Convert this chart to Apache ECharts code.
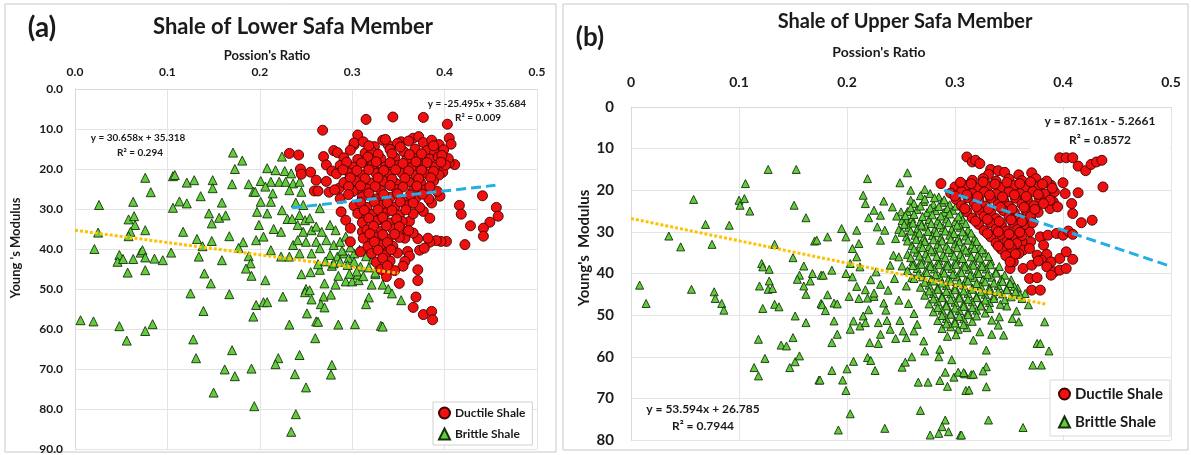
<!DOCTYPE html>
<html>
<head>
<meta charset="utf-8">
<script src="https://cdn.jsdelivr.net/npm/echarts@6/dist/echarts.min.js"></script>
<style>
  html, body { margin: 0; padding: 0; background: #fff; }
  #chart { width: 1191px; height: 455px; }
</style>
</head>
<body>
<div id="chart"></div>
<script>
// ---- Panel (a): Shale of Lower Safa Member — [Poisson's ratio, Young's modulus]
const lowerBrittle = [
  [0.171,15.9],[0.181,17.9],[0.173,20.0],[0.076,22.2],[0.106,21.8],[0.108,21.5],[0.121,23.4],[0.129,22.8],[0.149,22.8],[0.149,24.8],
  [0.170,23.8],[0.188,23.8],[0.193,25.7],[0.082,25.8],[0.026,29.0],[0.063,28.2],[0.113,28.1],[0.121,28.6],[0.106,29.7],[0.136,26.8],
  [0.159,28.4],[0.145,31.1],[0.156,32.2],[0.163,31.6],[0.148,33.6],[0.058,32.6],[0.064,31.8],[0.065,34.0],[0.060,35.7],[0.058,36.8],
  [0.076,35.3],[0.025,35.9],[0.021,40.0],[0.117,35.7],[0.132,37.5],[0.138,39.3],[0.148,38.0],[0.167,36.8],[0.182,38.3],[0.196,37.8],
  [0.177,39.7],[0.188,41.8],[0.190,43.6],[0.185,44.9],[0.191,46.7],[0.048,41.5],[0.046,43.2],[0.052,42.5],[0.063,42.5],[0.071,40.9],
  [0.073,40.3],[0.076,42.1],[0.057,45.9],[0.076,45.3],[0.086,42.4],[0.095,42.8],[0.104,40.9],[0.134,41.9],[0.159,42.8],[0.140,46.1],
  [0.147,48.6],[0.125,51.1],[0.167,51.3],[0.139,55.5],[0.196,54.0],[0.193,56.9],[0.006,57.8],[0.020,58.1],[0.048,59.3],[0.084,58.8],
  [0.076,60.5],[0.056,62.9],[0.128,62.6],[0.131,67.3],[0.170,65.3],[0.162,70.1],[0.173,71.8],[0.191,69.9],[0.150,75.9],[0.194,79.3],
  [0.206,47.8],[0.245,46.3],[0.255,45.8],[0.270,48.6],[0.282,48.9],[0.285,46.7],[0.278,44.2],[0.293,48.1],[0.300,48.1],[0.307,47.8],
  [0.306,46.4],[0.321,48.9],[0.325,46.3],[0.333,48.9],[0.339,50.0],[0.343,51.1],[0.353,52.8],[0.318,52.1],[0.315,53.8],[0.225,51.9],
  [0.250,50.0],[0.249,50.8],[0.254,50.3],[0.256,52.6],[0.269,51.9],[0.277,51.4],[0.266,53.8],[0.270,54.6],[0.251,56.1],[0.261,58.1],
  [0.263,58.2],[0.285,58.9],[0.303,58.8],[0.331,59.2],[0.333,59.4],[0.204,53.3],[0.208,53.3],[0.232,58.9],[0.260,62.3],[0.243,66.5],
  [0.220,67.3],[0.217,68.8],[0.278,69.0],[0.277,71.4],[0.238,71.3],[0.250,74.6],[0.239,81.3],[0.234,85.7],
  [0.224,16.9],[0.208,19.8],[0.217,20.3],[0.227,20.5],[0.234,21.1],[0.201,23.0],[0.212,23.2],[0.221,23.2],[0.228,23.2],[0.236,23.6],
  [0.243,23.2],[0.195,25.7],[0.206,24.4],[0.214,26.1],[0.232,25.3],[0.245,25.7],[0.201,28.2],[0.212,28.2],[0.239,28.4],[0.247,29.0],
  [0.265,29.8],[0.197,30.7],[0.208,31.1],[0.224,30.3],[0.230,32.5],[0.235,32.5],[0.243,31.5],[0.249,32.8],[0.254,32.3],[0.199,34.0],
  [0.215,35.0],[0.223,35.7],[0.241,34.0],[0.247,35.7],[0.256,35.3],[0.261,34.4],[0.267,35.7],[0.276,34.0],[0.282,35.3],[0.204,36.9],
  [0.236,39.0],[0.241,37.8],[0.250,38.2],[0.261,38.2],[0.272,37.8],[0.280,39.0],[0.287,38.2],[0.293,36.9],[0.212,40.3],[0.223,41.9],
  [0.232,41.9],[0.243,41.1],[0.256,41.1],[0.265,39.8],[0.276,41.5],[0.284,41.9],[0.291,41.1],[0.296,42.3],[0.302,41.1],[0.280,43.6],
  [0.287,43.2],[0.295,44.0],[0.302,43.2],[0.309,44.4],
  [0.298,39.6],[0.308,40.2],[0.315,41.8],[0.305,45.6],[0.318,44.6],[0.325,45.9],[0.312,46.8],[0.297,46.2],[0.271,43.1],[0.265,45.2],
  [0.289,40.4],[0.316,38.9],[0.322,42.6],[0.329,43.8],[0.263,43.8]
];
const lowerDuctile = [
  [0.315,7.6],[0.344,7.0],[0.268,10.3],[0.306,11.5],[0.232,16.1],[0.242,16.5],[0.280,15.4],[0.284,15.9],[0.302,14.0],[0.324,14.4],
  [0.333,12.8],[0.339,14.0],[0.244,20.0],[0.245,21.3],[0.255,20.8],[0.269,16.9],[0.272,19.0],[0.278,20.5],[0.261,22.8],[0.259,25.5],
  [0.263,25.5],[0.275,25.8],[0.286,24.8],[0.296,22.8],[0.306,25.0],[0.309,22.8],[0.318,19.4],[0.328,20.7],[0.288,30.7],[0.293,32.8],
  [0.298,34.8],[0.315,31.5],[0.328,32.8],[0.311,35.7],[0.298,38.2],[0.309,40.7],[0.320,38.2],[0.333,40.7],[0.353,13.2],[0.366,12.3],
  [0.372,11.9],
  [0.377,7.1],[0.403,8.8],[0.405,12.3],[0.407,13.8],[0.411,18.9],[0.405,18.5],[0.398,20.8],[0.441,26.7],[0.416,29.1],[0.418,31.3],
  [0.456,29.6],[0.458,31.8],[0.449,33.3],[0.442,34.8],[0.442,36.8],[0.428,34.2],[0.422,38.9],[0.402,38.1],[0.396,38.1],[0.391,37.9],
  [0.384,38.3],[0.382,37.3],[0.371,37.4],[0.359,35.6],[0.366,36.0],[0.357,37.3],[0.360,40.6],[0.362,41.8],[0.357,43.1],[0.355,44.3],
  [0.371,45.2],[0.371,47.9],[0.369,52.0],[0.366,54.6],[0.377,56.4],[0.386,55.6],[0.387,57.7],[0.373,40.3],[0.378,39.8],[0.386,28.5],
  [0.377,30.6],[0.384,32.3],[0.362,33.1],[0.395,26.8],[0.337,46.9],[0.351,48.6],[0.302,13.5],[0.314,16.0],
  [0.312,13.2],[0.336,12.6],[0.349,13.6],[0.361,13.0],[0.377,13.4],[0.386,12.8],[0.394,13.9],
  [0.298,15.3],[0.321,15.6],[0.341,15.1],[0.356,15.7],[0.368,15.0],[0.381,15.4],[0.389,15.9],[0.399,15.2],
  [0.291,17.2],[0.306,17.6],[0.317,17.0],[0.331,17.4],[0.346,17.1],[0.359,17.7],[0.371,17.2],[0.384,17.5],[0.393,17.0],[0.404,17.4],
  [0.287,19.1],[0.301,19.5],[0.322,19.0],[0.336,19.4],[0.349,19.1],[0.364,19.6],[0.376,19.2],[0.389,19.5],[0.401,19.0],
  [0.283,21.2],[0.297,21.0],[0.311,21.5],[0.326,21.1],[0.341,21.4],[0.354,21.0],[0.369,21.6],[0.381,21.2],[0.394,21.5],
  [0.272,23.1],[0.291,23.4],[0.304,23.0],[0.321,23.5],[0.334,23.1],[0.347,23.6],[0.361,23.2],[0.374,23.4],[0.388,23.0],
  [0.281,25.2],[0.301,25.6],[0.316,25.0],[0.331,25.4],[0.348,25.1],[0.366,25.5],[0.379,25.2],[0.392,25.6],
  [0.287,27.4],[0.311,27.0],[0.326,27.5],[0.341,27.1],[0.356,27.6],[0.369,27.2],[0.383,27.5],
  [0.302,29.2],[0.316,29.6],[0.331,29.1],[0.346,29.5],[0.359,29.2],[0.373,29.6],
  [0.306,31.1],[0.321,31.4],[0.336,31.0],[0.351,31.5],[0.366,31.2],
  [0.311,33.4],[0.326,33.0],[0.341,33.5],[0.354,33.1],
  [0.316,35.2],[0.331,35.6],[0.344,35.0],[0.361,35.4],
  [0.312,37.3],[0.326,37.0],[0.339,37.5],[0.351,37.1],
  [0.317,39.4],[0.331,39.0],[0.344,39.3],
  [0.321,41.1],[0.336,41.5],[0.349,41.0],
  [0.326,43.3],[0.341,43.0],
  [0.331,45.1],[0.346,45.4],
  [0.318,14.2],[0.328,16.3],[0.343,16.2],[0.352,14.5],[0.362,16.4],[0.375,16.2],[0.388,14.2],[0.397,16.6],[0.294,18.3],[0.310,18.5],
  [0.326,18.2],[0.341,18.4],[0.355,18.6],[0.369,18.2],[0.381,18.4],[0.396,18.3],[0.290,20.2],[0.305,20.4],[0.318,20.2],[0.334,20.4],
  [0.347,20.2],[0.361,20.5],[0.375,20.3],[0.388,20.6],[0.298,22.2],[0.314,22.4],[0.328,22.2],[0.343,22.5],[0.357,22.3],[0.372,22.4],
  [0.385,22.2],[0.296,24.4],[0.309,24.2],[0.325,24.4],[0.341,24.1],[0.355,24.5],[0.370,24.3],[0.384,24.4],[0.296,26.4],[0.318,26.1],
  [0.334,26.4],[0.349,26.2],[0.363,26.5],[0.376,26.3],[0.309,28.3],[0.324,28.2],[0.338,28.4],[0.352,28.2],[0.366,28.5],[0.313,30.3],
  [0.328,30.2],[0.343,30.4],[0.358,30.2],[0.318,32.3],[0.333,32.1],[0.348,32.5],[0.323,34.3],[0.337,34.2],[0.351,34.4],[0.319,36.2],
  [0.333,36.4],[0.346,36.3],[0.324,38.2],[0.338,38.4],[0.328,40.3],[0.342,40.2],[0.333,42.3],[0.338,44.2]
];

// ---- Panel (b): Shale of Upper Safa Member
const upperBrittle = [
  [0.127,15.0],[0.153,15.0],[0.106,18.4],[0.058,22.2],[0.100,22.4],[0.105,22.0],[0.101,23.6],[0.110,25.0],[0.151,23.6],[0.162,26.6],
  [0.069,28.2],[0.091,28.4],[0.035,31.0],[0.046,33.6],[0.075,33.0],[0.133,33.0],[0.170,32.2],[0.150,36.2],[0.121,37.6],[0.122,38.4],
  [0.128,39.0],[0.119,43.0],[0.128,41.8],[0.127,43.8],[0.131,43.6],[0.122,48.4],[0.133,47.4],[0.137,48.0],[0.160,38.2],[0.156,40.4],
  [0.154,41.4],[0.168,40.0],[0.166,41.8],[0.160,43.0],[0.162,45.0],[0.176,47.2],[0.176,40.4],[0.008,42.8],[0.014,47.2],[0.056,43.8],
  [0.077,44.4],[0.078,46.0],[0.084,47.2],[0.086,48.8],[0.152,50.2],[0.162,51.8],[0.118,55.8],[0.139,57.2],[0.144,57.4],[0.150,55.4],
  [0.124,60.4],[0.114,62.6],[0.118,64.6],[0.147,62.6],[0.152,61.2],[0.156,59.8],[0.174,65.6],
  [0.219,17.2],[0.256,15.8],[0.249,18.2],[0.259,20.0],[0.272,19.8],[0.215,21.2],[0.217,23.2],[0.234,22.6],[0.225,24.8],[0.242,24.0],
  [0.250,25.2],[0.259,22.4],[0.220,26.6],[0.231,26.0],[0.246,26.2],[0.255,27.2],[0.195,29.2],[0.199,31.2],[0.209,29.6],[0.211,32.8],
  [0.228,28.8],[0.235,29.6],[0.231,32.0],[0.245,31.6],[0.172,32.0],[0.182,31.2],[0.205,34.0],[0.209,36.0],[0.203,37.6],[0.212,38.4],
  [0.243,35.6],[0.248,36.0],[0.240,38.0],[0.251,38.2],[0.178,40.4],[0.186,39.2],[0.199,40.0],[0.205,40.8],
  [0.182,45.1],[0.202,45.5],[0.211,46.0],[0.219,45.9],[0.225,45.5],[0.234,47.1],[0.177,47.5],[0.180,48.9],[0.188,47.1],[0.191,47.3],
  [0.188,51.4],[0.191,54.6],[0.186,56.6],[0.203,53.4],[0.206,51.4],[0.212,52.6],[0.215,50.2],[0.220,48.7],[0.217,51.8],[0.229,51.8],
  [0.237,51.3],[0.240,53.4],[0.231,54.6],[0.221,56.6],[0.229,56.8],[0.249,51.3],[0.252,53.8],[0.255,55.4],[0.262,53.8],[0.265,52.2],
  [0.271,56.2],[0.245,55.6],[0.219,60.2],[0.222,60.9],[0.206,61.1],[0.200,62.9],[0.186,63.3],[0.175,65.6],[0.196,65.6],[0.199,68.1],
  [0.226,63.3],[0.251,62.5],[0.254,61.3],[0.260,60.0],[0.272,58.6],[0.286,58.2],[0.297,60.7],[0.285,60.0],[0.266,66.1],[0.275,66.1],
  [0.286,65.7],[0.293,67.1],[0.291,63.7],[0.299,64.9],[0.303,63.7],[0.309,64.1],[0.315,64.3],[0.310,68.1],[0.203,73.7],[0.192,77.6],
  [0.235,77.2],[0.268,72.9],[0.291,75.2],[0.288,76.8],[0.277,78.8],[0.285,78.4],[0.294,78.0],[0.305,78.8],[0.209,43.1],[0.217,43.9],
  [0.225,44.7],
  [0.359,51.6],[0.383,51.6],[0.341,50.4],[0.334,51.2],[0.340,52.4],[0.323,54.0],[0.317,56.0],[0.334,54.6],[0.345,54.8],[0.329,58.4],
  [0.376,56.8],[0.379,56.8],[0.387,58.6],[0.372,62.0],[0.380,62.0],[0.329,62.4],[0.326,63.4],[0.317,64.2],[0.308,63.8],[0.329,67.2],
  [0.313,68.0],[0.331,75.2],[0.363,77.0],[0.306,78.8],
  [0.352,41.5],[0.358,43.5],[0.362,46.0],[0.368,47.5],[0.357,49.0],[0.365,44.8],[0.348,47.8],[0.353,50.8],
  [0.222,41.5],[0.231,42.6],[0.238,44.0],[0.244,41.2],[0.248,46.4],[0.236,48.8],[0.257,47.2],[0.262,49.6],[0.227,39.6],[0.255,43.0],
  [0.260,41.0],
  [0.268,21.3],[0.277,20.8],[0.285,21.6],
  [0.262,23.2],[0.271,22.7],[0.280,23.4],[0.288,22.9],[0.295,23.5],
  [0.256,25.1],[0.265,24.6],[0.274,25.4],[0.282,24.9],[0.290,25.3],[0.298,24.8],[0.305,25.9],
  [0.251,27.3],[0.260,26.8],[0.268,27.5],[0.276,27.0],[0.284,27.4],[0.292,26.9],[0.300,27.6],[0.307,27.1],
  [0.248,29.4],[0.257,28.9],[0.265,29.3],[0.273,28.8],[0.281,29.5],[0.289,29.0],[0.297,29.4],[0.305,28.9],[0.312,29.6],
  [0.255,31.2],[0.263,30.8],[0.271,31.4],[0.279,30.9],[0.287,31.3],[0.295,30.8],[0.303,31.5],[0.310,31.0],[0.318,31.6],
  [0.260,33.3],[0.268,32.9],[0.276,33.5],[0.284,33.0],[0.292,33.4],[0.300,32.9],[0.308,33.6],[0.316,33.1],[0.323,33.7],
  [0.256,35.4],[0.265,34.9],[0.273,35.3],[0.281,34.8],[0.289,35.5],[0.297,35.0],[0.305,35.4],[0.313,34.9],[0.321,35.6],[0.328,35.1],
  [0.261,37.2],[0.269,36.8],[0.277,37.4],[0.285,36.9],[0.293,37.3],[0.301,36.8],[0.309,37.5],[0.317,37.0],[0.325,37.4],[0.333,37.0],
  [0.256,39.3],[0.265,38.8],[0.273,39.4],[0.281,38.9],[0.289,39.3],[0.297,38.8],[0.305,39.5],[0.313,39.0],[0.321,39.4],[0.329,38.9],[0.338,39.5],
  [0.262,41.2],[0.270,40.8],[0.278,41.4],[0.286,40.9],[0.294,41.3],[0.302,40.8],[0.310,41.5],[0.318,41.0],[0.326,41.4],[0.334,40.9],[0.343,41.3],
  [0.268,43.3],[0.276,42.8],[0.284,43.4],[0.292,42.9],[0.300,43.3],[0.308,42.8],[0.316,43.5],[0.324,43.0],[0.332,43.4],[0.340,42.9],[0.348,43.6],[0.355,43.1],
  [0.272,45.2],[0.280,44.8],[0.288,45.4],[0.296,44.9],[0.304,45.3],[0.312,44.8],[0.320,45.5],[0.328,45.0],[0.336,45.4],[0.344,44.9],[0.352,45.6],[0.360,45.1],
  [0.276,47.3],[0.284,46.8],[0.292,47.4],[0.300,46.9],[0.308,47.3],[0.316,46.8],[0.324,47.5],[0.332,47.0],[0.342,47.4],
  [0.280,49.2],[0.288,48.8],[0.296,49.4],[0.304,48.9],[0.312,49.3],[0.320,48.8],[0.328,49.5],
  [0.284,51.3],[0.292,50.8],[0.300,51.4],[0.308,50.9],[0.316,51.5],
  [0.288,53.2],[0.296,52.8],[0.303,53.4],[0.311,53.0],
  [0.293,55.1],[0.301,54.7],
  [0.272,22.1],[0.281,21.8],[0.290,22.3],
  [0.259,24.2],[0.268,23.8],[0.277,24.3],[0.285,23.9],[0.293,24.4],[0.301,23.8],
  [0.254,26.1],[0.262,25.8],[0.270,26.3],[0.279,25.9],[0.287,26.2],[0.295,25.7],[0.303,26.4],
  [0.253,28.2],[0.261,27.9],[0.269,28.4],[0.278,28.0],[0.286,28.3],[0.294,27.8],[0.302,28.4],[0.310,28.0],
  [0.251,30.1],[0.259,29.8],[0.267,30.3],[0.275,29.9],[0.283,30.2],[0.291,29.8],[0.299,30.4],[0.307,30.0],[0.315,30.3],
  [0.256,32.2],[0.264,31.8],[0.272,32.3],[0.280,31.9],[0.288,32.2],[0.296,31.8],[0.304,32.4],[0.312,32.0],[0.320,32.3],
  [0.262,34.1],[0.270,33.8],[0.278,34.3],[0.286,33.9],[0.294,34.2],[0.302,33.8],[0.310,34.4],[0.318,34.0],[0.325,34.3],
  [0.259,36.2],[0.267,35.8],[0.275,36.3],[0.283,35.9],[0.291,36.2],[0.299,35.8],[0.307,36.4],[0.315,36.0],[0.323,36.3],[0.331,35.9],
  [0.261,38.1],[0.269,37.8],[0.277,38.3],[0.285,37.9],[0.293,38.2],[0.301,37.8],[0.309,38.4],[0.317,38.0],[0.325,38.3],[0.333,37.9],[0.341,38.3],
  [0.266,40.2],[0.274,39.8],[0.282,40.3],[0.290,39.9],[0.298,40.2],[0.306,39.8],[0.314,40.4],[0.322,40.0],[0.330,40.3],[0.338,39.9],[0.346,40.4],
  [0.272,42.1],[0.280,41.8],[0.288,42.3],[0.296,41.9],[0.304,42.2],[0.312,41.8],[0.320,42.4],[0.328,42.0],[0.336,42.3],[0.344,41.9],[0.351,42.4],
  [0.276,44.2],[0.284,43.8],[0.292,44.3],[0.300,43.9],[0.308,44.2],[0.316,43.8],[0.324,44.4],[0.332,44.0],[0.340,44.3],[0.348,43.9],[0.356,44.4],
  [0.280,46.1],[0.288,45.8],[0.296,46.3],[0.304,45.9],[0.312,46.2],[0.320,45.8],[0.328,46.4],[0.336,46.0],[0.346,46.3],
  [0.284,48.2],[0.292,47.8],[0.300,48.3],[0.308,47.9],[0.316,48.2],[0.324,47.8],[0.332,48.4],
  [0.288,50.1],[0.296,49.8],[0.304,50.3],[0.312,49.9],[0.320,50.2],
  [0.292,52.1],[0.300,51.9],[0.308,52.3]
];
const upperDuctile = [
  [0.397,12.2],[0.403,12.2],[0.409,12.2],[0.414,14.2],[0.421,15.3],[0.426,13.8],[0.431,13.2],[0.436,12.8],[0.437,19.2],[0.311,12.0],
  [0.316,13.2],[0.333,15.0],[0.400,18.2],[0.402,20.8],[0.414,20.6],[0.408,23.2],[0.409,25.6],[0.417,27.8],[0.427,27.2],[0.389,18.8],
  [0.392,20.4],[0.391,22.8],[0.388,24.4],[0.395,24.0],[0.369,30.0],[0.370,32.4],[0.379,31.2],[0.386,30.8],[0.394,30.4],[0.400,30.8],
  [0.405,29.8],[0.409,30.6],[0.382,33.2],[0.362,32.4],[0.363,34.4],[0.369,34.0],[0.376,35.6],[0.385,35.4],[0.380,36.8],[0.389,37.2],
  [0.397,36.4],[0.403,34.8],[0.409,36.6],[0.363,38.8],[0.371,38.0],[0.377,37.0],[0.385,38.4],[0.392,39.6],[0.397,39.2],[0.403,38.8],
  [0.389,40.4],[0.369,41.2],[0.376,41.0],[0.371,44.0],[0.379,44.0],[0.360,29.6],[0.356,32.4],[0.359,35.2],[0.351,38.8],[0.354,37.2],
  [0.319,12.8],[0.323,13.6],[0.287,18.4],[0.340,15.3],
  [0.331,16.2],[0.346,15.7],[0.359,16.3],[0.371,15.8],
  [0.316,17.6],[0.326,17.2],[0.338,17.8],[0.350,17.3],[0.362,17.7],[0.375,17.2],[0.385,17.8],
  [0.300,19.2],[0.310,18.8],[0.320,19.4],[0.331,18.9],[0.342,19.3],[0.355,18.8],[0.365,19.4],[0.378,18.9],[0.390,19.5],
  [0.296,20.7],[0.306,20.3],[0.316,20.8],[0.327,20.4],[0.338,20.9],[0.350,20.4],[0.360,20.8],[0.372,20.3],[0.383,20.9],
  [0.301,22.2],[0.312,21.8],[0.322,22.3],[0.333,21.9],[0.345,22.4],[0.356,21.9],[0.367,22.3],[0.378,21.8],[0.388,22.4],
  [0.306,23.7],[0.318,23.3],[0.328,23.8],[0.340,23.4],[0.350,23.8],[0.362,23.3],[0.373,23.7],[0.382,23.2],
  [0.311,25.2],[0.322,24.8],[0.333,25.3],[0.345,24.9],[0.355,25.4],[0.366,24.9],[0.377,25.3],
  [0.316,26.7],[0.327,26.3],[0.338,26.8],[0.350,26.4],[0.360,26.8],[0.370,26.3],
  [0.322,28.2],[0.333,27.8],[0.343,28.3],[0.354,27.9],[0.364,28.3],[0.372,27.8],
  [0.327,29.7],[0.338,29.3],[0.348,29.8],[0.358,29.4],
  [0.333,31.2],[0.343,30.8],[0.353,31.3],[0.362,30.9],
  [0.338,32.7],[0.348,32.3],[0.357,32.8],
  [0.343,34.2],[0.352,33.8],
  [0.347,35.7],[0.356,35.3],
  [0.351,37.2],
  [0.305,18.1],[0.315,18.4],[0.326,18.0],[0.337,18.5],[0.348,18.1],[0.360,18.4],[0.370,18.0],[0.381,18.5],
  [0.300,21.4],[0.311,21.1],[0.321,21.5],[0.332,21.2],[0.344,21.6],[0.355,21.1],[0.366,21.5],[0.377,21.0],
  [0.309,24.4],[0.320,24.0],[0.331,24.5],[0.342,24.1],[0.353,24.5],[0.364,24.1],[0.374,24.6],
  [0.319,27.4],[0.330,27.0],[0.341,27.5],[0.352,27.1],[0.362,27.5],
  [0.330,30.4],[0.340,30.0],[0.350,30.5],[0.360,30.1],
  [0.340,33.4],[0.350,33.0]
];

// Linear trend lines: [slope, intercept, R², x from, x to]
const lowerDuctileFit = [-25.495, 35.684, '0.009', 0.235, 0.455];
const lowerBrittleFit = [30.658, 35.318, '0.294', 0.0, 0.35];
const upperDuctileFit = [87.161, -5.2661, '0.8572', 0.29, 0.5];
const upperBrittleFit = [53.594, 26.785, '0.7944', 0.0, 0.385];

// Axis tick labels
const xTicksA = ['0.0', '0.1', '0.2', '0.3', '0.4', '0.5'];
const yTicksA = ['0.0', '10.0', '20.0', '30.0', '40.0', '50.0', '60.0', '70.0', '80.0', '90.0'];
const xTicksB = ['0', '0.1', '0.2', '0.3', '0.4', '0.5'];
const yTicksB = ['0', '10', '20', '30', '40', '50', '60', '70', '80'];

const FONT = 'Lato, "Open Sans", "DejaVu Sans", sans-serif';
const TXT = '#1a1a1a';

function fitLine(f) {
  return [[f[3], f[0] * f[3] + f[1]], [f[4], f[0] * f[4] + f[1]]];
}
function eqText(f) {
  const b = f[1];
  return 'y = ' + f[0] + 'x ' + (b < 0 ? '- ' : '+ ') + Math.abs(b);
}

const redStyle = { color: '#f01010', borderColor: '#3d0000', borderWidth: 0.9, opacity: 1 };
const greenStyle = { color: '#62cc3e', borderColor: '#143208', borderWidth: 0.9, opacity: 1 };

function xAxisCfg(idx, ticks, fs, margin) {
  return {
    gridIndex: idx, type: 'value', position: 'top', min: 0, max: 0.5, interval: 0.1,
    axisLine: { show: true, lineStyle: { color: '#d9d9d9' } },
    axisTick: { show: false },
    axisLabel: { formatter: v => ticks[Math.round(v * 10)], margin: margin, fontSize: fs, fontWeight: 'bold', color: TXT, fontFamily: FONT },
    splitLine: { show: true, lineStyle: { color: '#e4e4e4' } }
  };
}
function yAxisCfg(idx, ticks, max, fs, margin) {
  return {
    gridIndex: idx, type: 'value', inverse: true, min: 0, max: max, interval: 10,
    axisLine: { show: true, lineStyle: { color: '#d9d9d9' } },
    axisTick: { show: false },
    axisLabel: { formatter: v => ticks[Math.round(v / 10)], margin: margin, fontSize: fs, fontWeight: 'bold', color: TXT, fontFamily: FONT },
    splitLine: { show: true, lineStyle: { color: '#e4e4e4' } }
  };
}

function label(text, x, y, size, opts) {
  return {
    type: 'text', x: x, y: y, z: 20,
    style: Object.assign({ text: text, fill: TXT, font: 'bold ' + size + 'px ' + FONT, textAlign: 'center', textVerticalAlign: 'middle' }, opts || {})
  };
}

const chart = echarts.init(document.getElementById('chart'), null, { renderer: 'canvas' });

chart.setOption({
  animation: false,
  backgroundColor: '#fff',
  grid: [
    { left: 75, top: 89, width: 462, height: 360 },
    { left: 631, top: 107, width: 540, height: 333 }
  ],
  xAxis: [xAxisCfg(0, xTicksA, 12, 11), xAxisCfg(1, xTicksB, 14, 18)],
  yAxis: [yAxisCfg(0, yTicksA, 90, 12, 12), yAxisCfg(1, yTicksB, 80, 15, 17)],
  legend: [
    {
      left: 433, top: 402, orient: 'vertical', itemGap: 7, itemWidth: 11, itemHeight: 11,
      padding: [4, 7, 4, 5], borderColor: '#d0d0d0', borderWidth: 1, backgroundColor: '#fff',
      textStyle: { fontSize: 12, fontWeight: 'bold', fontFamily: FONT, color: TXT, lineHeight: 14 },
      selectedMode: false,
      data: [{ name: 'Ductile Shale', icon: 'circle' }, { name: 'Brittle Shale', icon: 'triangle' }]
    },
    {
      left: 1050, top: 380, orient: 'vertical', itemGap: 10, itemWidth: 11, itemHeight: 11,
      padding: [5, 7, 5, 8], borderColor: '#d8d8d8', borderWidth: 1, backgroundColor: '#fff',
      textStyle: { fontSize: 15, fontWeight: 'bold', fontFamily: FONT, color: TXT, lineHeight: 18 },
      selectedMode: false,
      data: [{ name: 'Ductile Shale', icon: 'circle' }, { name: 'Brittle Shale', icon: 'triangle' }]
    }
  ],
  series: [
    { name: 'Brittle Shale', type: 'scatter', xAxisIndex: 0, yAxisIndex: 0, symbol: 'triangle', symbolSize: 9, itemStyle: greenStyle, data: lowerBrittle, z: 2 },
    { name: 'Ductile Shale', type: 'scatter', xAxisIndex: 0, yAxisIndex: 0, symbol: 'circle', symbolSize: 10, itemStyle: redStyle, data: lowerDuctile, z: 3 },
    { name: 'Brittle Shale', type: 'scatter', xAxisIndex: 1, yAxisIndex: 1, symbol: 'triangle', symbolSize: 8, itemStyle: greenStyle, data: upperBrittle, z: 2 },
    { name: 'Ductile Shale', type: 'scatter', xAxisIndex: 1, yAxisIndex: 1, symbol: 'circle', symbolSize: 10, itemStyle: redStyle, data: upperDuctile, z: 3 },
    { name: 'trend-a-ductile', type: 'line', xAxisIndex: 0, yAxisIndex: 0, data: fitLine(lowerDuctileFit), showSymbol: false, silent: true, z: 5,
      lineStyle: { color: '#22aee6', width: 3, type: [10, 5] } },
    { name: 'trend-a-brittle', type: 'line', xAxisIndex: 0, yAxisIndex: 0, data: fitLine(lowerBrittleFit), showSymbol: false, silent: true, z: 5,
      lineStyle: { color: '#ffc000', width: 3, type: [3, 2] } },
    { name: 'trend-b-ductile', type: 'line', xAxisIndex: 1, yAxisIndex: 1, data: fitLine(upperDuctileFit), showSymbol: false, silent: true, z: 5,
      lineStyle: { color: '#22aee6', width: 3, type: [10, 5] } },
    { name: 'trend-b-brittle', type: 'line', xAxisIndex: 1, yAxisIndex: 1, data: fitLine(upperBrittleFit), showSymbol: false, silent: true, z: 5,
      lineStyle: { color: '#ffc000', width: 3, type: [3, 2] } }
  ],
  graphic: [
    { type: 'rect', shape: { x: 5, y: 4, width: 551, height: 448 }, style: { fill: 'none', stroke: '#c8c8c8', lineWidth: 1 }, silent: true },
    { type: 'rect', shape: { x: 563, y: 4, width: 625, height: 446 }, style: { fill: 'none', stroke: '#c8c8c8', lineWidth: 1 }, silent: true },

    label('(a)', 42, 28, 28),
    label('Shale of Lower Safa Member', 293, 27, 22),
    label("Possion's Ratio", 267, 56, 13),
    Object.assign(label("Young 's Modulus", 16, 248, 13), { rotation: Math.PI / 2 }),
    label(eqText(lowerDuctileFit), 477, 104, 10),
    label('R² = ' + lowerDuctileFit[2], 478, 118, 10),
    label(eqText(lowerBrittleFit), 138, 138, 10),
    label('R² = ' + lowerBrittleFit[2], 140, 153, 10),

    label('(b)', 590, 38, 26),
    label('Shale of Upper Safa Member', 905, 22, 20),
    label("Possion's Ratio", 879, 52, 14),
    Object.assign(label("Young's  Modulus", 584, 248, 15), { rotation: Math.PI / 2 }),
    { type: 'rect', shape: { x: 1030, y: 110, width: 140, height: 40 }, style: { fill: '#fff' }, z: 19, silent: true },
    label(eqText(upperDuctileFit), 1100, 121, 12),
    label('R² = ' + upperDuctileFit[2], 1100, 140, 12),
    label(eqText(upperBrittleFit), 703, 409, 12),
    label('R² = ' + upperBrittleFit[2], 703, 426, 12)
  ]
});
</script>
</body>
</html>
